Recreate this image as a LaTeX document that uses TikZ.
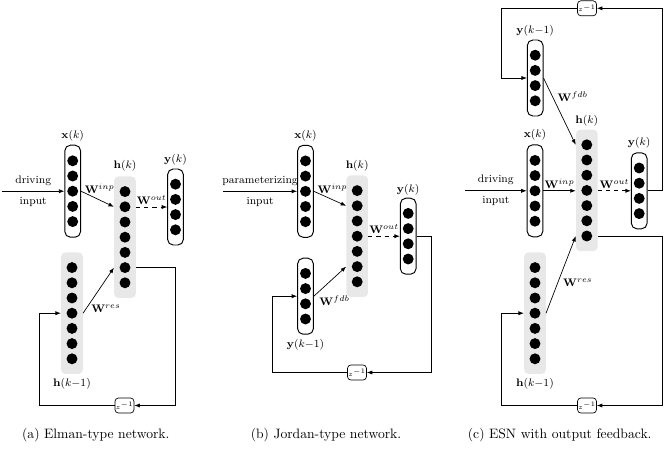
\documentclass[tikz,border=0pt]{standalone}
\usepackage{amsmath}
\usetikzlibrary{arrows.meta,positioning}

\begin{document}
\begin{tikzpicture}[
  x=0.733pt,y=-0.733pt,
  unit/.style={circle,fill=black,inner sep=0pt,minimum size=8pt},
  vecbox/.style={draw,rounded corners=4pt,line width=0.7pt,minimum width=11.5pt},
  resbox/.style={fill=black!9,rounded corners=3pt,minimum width=15.8pt,minimum height=89pt},
  delay/.style={draw,rounded corners=2.5pt,line width=0.5pt,minimum width=13.5pt,
    minimum height=11pt,inner sep=0.5pt,font=\tiny},
  lbl/.style={font=\footnotesize,inner sep=1.5pt},
  conn/.style={-{Latex[length=4pt,width=3pt]},line width=0.5pt},
  subcap/.style={font=\normalsize},
]
  \useasboundingbox (0,0) rectangle (666,452);

  % (a) Elman-type network
  \node[vecbox,minimum height=67.4pt] (xa) at (72.7,191.2) {};
  \foreach \i in {1,...,5} \node[unit] (xa\i) at (72.7,{191.2+(\i-3)*15.2}) {};
  \node[resbox] (ha) at (125,237.2) {};
  \foreach \i in {1,...,7} \node[unit] (ha\i) at (125,{237.2+(\i-4)*15.2}) {};
  \node[vecbox,minimum height=55.7pt] (ya) at (175.5,207) {};
  \foreach \i in {1,...,4} \node[unit] (ya\i) at (175.5,{207+(\i-2.5)*15.2}) {};
  \node[resbox] (hpa) at (72,313.2) {};
  \foreach \i in {1,...,7} \node[unit] (hpa\i) at (72,{313.2+(\i-4)*15.2}) {};
  \node[delay] (za) at (124.5,405.5) {$z^{-1}$};

  \node[lbl,above=1pt of xa] (xalab) {$\mathbf{x}(k)$};
  \node[lbl,above=2pt of ha] (halab) {$\mathbf{h}(k)$};
  \node[lbl,above=1pt of ya] (yalab) {$\mathbf{y}(k)$};
  \node[lbl,below=1.5pt of hpa] (hpalab) {$\mathbf{h}(k{-}1)$};

  \coordinate (ina) at (2,191.2);
  \coordinate (la) at (39,313.2);
  \draw[conn] (ina) -- (xa.west) node[lbl,midway,above=2.5pt] (drva) {driving}
    node[lbl,midway,below=2.5pt] (inpa) {input};
  \draw[conn] (xa.east) -- (ha2 -| ha.west)
    node[lbl,at start,anchor=west,xshift=1pt,yshift=2pt] (winpa) {$\mathbf{W}^{inp}$};
  \draw[conn,dashed] (ya.west -| ha.east) -- (ya.west) node[lbl,midway,above] (wouta) {$\mathbf{W}^{out}$};
  \draw[conn] (hpa.east) -- (ha6 -| ha.west) node[lbl,pos=0.1,right=2pt] (wresa) {$\mathbf{W}^{res}$};
  \draw[conn] (ha6 -| ha.east) -- (ha6 -| ya) |- (za.east);
  \draw[conn] (za.west) -| (la) -- (hpa.west);

  % (b) Jordan-type network
  \node[vecbox,minimum height=67.4pt] (xb) at (305.5,191.3) {};
  \foreach \i in {1,...,5} \node[unit] (xb\i) at (305.5,{191.3+(\i-3)*15.2}) {};
  \node[resbox] (hb) at (357.2,236.2) {};
  \foreach \i in {1,...,7} \node[unit] (hb\i) at (357.2,{236.2+(\i-4)*15.2}) {};
  \node[vecbox,minimum height=55.7pt] (yb) at (408.2,236.2) {};
  \foreach \i in {1,...,4} \node[unit] (yb\i) at (408.2,{236.2+(\i-2.5)*15.2}) {};
  \node[vecbox,minimum height=55.7pt] (ypb) at (305.5,296.2) {};
  \foreach \i in {1,...,4} \node[unit] (ypb\i) at (305.5,{296.2+(\i-2.5)*15.2}) {};
  \node[delay] (zb) at (357,372.5) {$z^{-1}$};

  \node[lbl,above=1pt of xb] (xblab) {$\mathbf{x}(k)$};
  \node[lbl,above=1pt of hb] (hblab) {$\mathbf{h}(k)$};
  \node[lbl,above=0.5pt of yb] (yblab) {$\mathbf{y}(k)$};
  \node[lbl,below=1.5pt of ypb] (ypblab) {$\mathbf{y}(k{-}1)$};

  \coordinate (inb) at (223,191.3);
  \coordinate (rb) at (431,236.2);
  \coordinate (lb) at (272.3,296.2);
  \draw[conn] (inb) -- (xb.west) node[lbl,midway,above=2.5pt] (prmb) {parameterizing}
    node[lbl,midway,below=2.5pt] (inpb) {input};
  \draw[conn] (xb.east) -- (hb2 -| hb.west)
    node[lbl,at start,anchor=west,xshift=1pt,yshift=2pt] (winpb) {$\mathbf{W}^{inp}$};
  \draw[conn,dashed] (yb.west -| hb.east) -- (yb.west) node[lbl,midway,above] (woutb) {$\mathbf{W}^{out}$};
  \draw[conn] (ypb.east) -- (hb6 -| hb.west) node[lbl,pos=0.1,below right=0pt] (wfdbb) {$\mathbf{W}^{fdb}$};
  \draw[conn] (yb.east) -- (rb) |- (zb.east);
  \draw[conn] (zb.west) -| (lb) -- (ypb.west);

  % (c) ESN with output feedback
  \node[vecbox,minimum height=55.7pt] (ypc) at (535.2,78) {};
  \foreach \i in {1,...,4} \node[unit] (ypc\i) at (535.2,{78+(\i-2.5)*15.2}) {};
  \node[resbox] (hc) at (586.8,190.4) {};
  \foreach \i in {1,...,7} \node[unit] (hc\i) at (586.8,{190.4+(\i-4)*15.2}) {};
  \node[vecbox,minimum height=67.4pt] (xc) at (535,190.8) {};
  \foreach \i in {1,...,5} \node[unit] (xc\i) at (535,{190.8+(\i-3)*15.2}) {};
  \node[vecbox,minimum height=55.7pt] (yc) at (639.2,190.8) {};
  \foreach \i in {1,...,4} \node[unit] (yc\i) at (639.2,{190.8+(\i-2.5)*15.2}) {};
  \node[resbox] (hpc) at (535,313.2) {};
  \foreach \i in {1,...,7} \node[unit] (hpc\i) at (535,{313.2+(\i-4)*15.2}) {};
  \node[delay] (zc1) at (587,8.3) {$z^{-1}$};
  \node[delay] (zc2) at (587,405.5) {$z^{-1}$};

  \node[lbl,above=1pt of ypc] (ypclab) {$\mathbf{y}(k{-}1)$};
  \node[lbl,above=1pt of hc] (hclab) {$\mathbf{h}(k)$};
  \node[lbl,above=1pt of xc] (xclab) {$\mathbf{x}(k)$};
  \node[lbl,above=1pt of yc] (yclab) {$\mathbf{y}(k)$};
  \node[lbl,below=1.5pt of hpc] (hpclab) {$\mathbf{h}(k{-}1)$};

  \coordinate (inc) at (465,190.8);
  \coordinate (rc) at (662.3,190.8);
  \coordinate (lc1) at (501,78);
  \coordinate (lc2) at (501,313.2);
  \draw[conn] (inc) -- (xc.west) node[lbl,midway,above=2.5pt] (drvc) {driving}
    node[lbl,midway,below=2.5pt] (inpc) {input};
  \draw[conn] (xc.east) -- (xc.east -| hc.west) node[lbl,midway,above] (winpc) {$\mathbf{W}^{inp}$};
  \draw[conn,dashed] (yc.west -| hc.east) -- (yc.west) node[lbl,midway,above] (woutc) {$\mathbf{W}^{out}$};
  \draw[conn] (ypc.east) -- (hc1 -| hc.west) node[lbl,pos=0.28,right=2pt] (wfdbc) {$\mathbf{W}^{fdb}$};
  \draw[conn] (hpc.east) -- (hc7 -| hc.west) node[lbl,pos=0.4,right=2pt] (wresc) {$\mathbf{W}^{res}$};
  \draw[conn] (yc.east) -- (rc) |- (zc1.east);
  \draw[conn] (zc1.west) -| (lc1) -- (ypc.west);
  \draw[conn] (hc7 -| hc.east) -- (hc7 -| rc) |- (zc2.east);
  \draw[conn] (zc2.west) -| (lc2) -- (hpc.west);

  % captions
  \node[subcap] (capa) at (95.8,435) {(a) Elman-type network.};
  \node[subcap] (capb) at (326,435) {(b) Jordan-type network.};
  \node[subcap] (capc) at (559.7,435) {(c) ESN with output feedback.};
\end{tikzpicture}
\end{document}
